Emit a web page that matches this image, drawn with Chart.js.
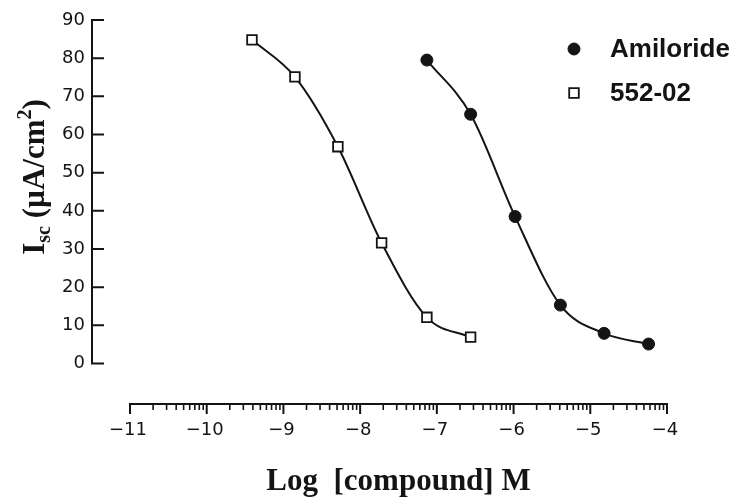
<!DOCTYPE html>
<html>
<head>
<meta charset="utf-8">
<script src="https://cdn.jsdelivr.net/npm/chart.js@4/dist/chart.umd.min.js"></script>
<style>
  html, body { margin: 0; padding: 0; background: #fff; }
  #wrap { width: 736px; height: 501px; }
</style>
</head>
<body>
<div id="wrap"><canvas id="isc" width="736" height="501"></canvas></div>
<script>
// log concentration (M) and short-circuit current readings
const amilorideLogM = [-7.13, -6.56, -5.98, -5.39, -4.82, -4.24];
const amilorideIsc = [79.5, 65.3, 38.5, 15.3, 7.9, 5.1];
const cmpdLogM = [-9.41, -8.85, -8.29, -7.72, -7.13, -6.56];
const cmpdIsc = [84.8, 75.1, 56.8, 31.6, 12.1, 6.9];

const xTicks = [-11, -10, -9, -8, -7, -6, -5, -4];
const yTicks = [0, 10, 20, 30, 40, 50, 60, 70, 80, 90];
const seriesNames = ["Amiloride", "552-02"];

// frame geometry (px)
const yAxisX = 92, xAxisY = 404;
const xAxisStart = 130, xAxisEnd = 667;
const yZeroPx = 363.5, yTopPx = 20;

const pxPerDecade = (xAxisEnd - xAxisStart) / (xTicks[xTicks.length - 1] - xTicks[0]);
const pxPerUnit = (yZeroPx - yTopPx) / yTicks[yTicks.length - 1];

const ink = "#141414";

function pairs(xs, ys) {
  return xs.map((v, i) => ({ x: v, y: ys[i] }));
}

const axesPlugin = {
  id: "plotAxes",
  beforeDatasetsDraw(chart) {
    const { ctx, scales: { x, y } } = chart;
    ctx.save();
    ctx.strokeStyle = ink;
    ctx.fillStyle = ink;
    ctx.lineWidth = 2;
    ctx.lineCap = "square";

    // y axis with inward ticks
    const y0 = y.getPixelForValue(yTicks[0]);
    const y1 = y.getPixelForValue(yTicks[yTicks.length - 1]);
    ctx.beginPath();
    ctx.moveTo(yAxisX, y0);
    ctx.lineTo(yAxisX, y1);
    yTicks.forEach(v => {
      const p = y.getPixelForValue(v);
      ctx.moveTo(yAxisX, p);
      ctx.lineTo(yAxisX + 11, p);
    });
    ctx.stroke();

    ctx.font = '18px "DejaVu Sans"';
    ctx.textAlign = "right";
    ctx.textBaseline = "middle";
    yTicks.forEach(v => ctx.fillText(String(v), yAxisX - 7, y.getPixelForValue(v)));

    // x axis, log minor ticks inside each decade
    const xa = x.getPixelForValue(xTicks[0]);
    const xb = x.getPixelForValue(xTicks[xTicks.length - 1]);
    ctx.beginPath();
    ctx.moveTo(xa, xAxisY);
    ctx.lineTo(xb, xAxisY);
    xTicks.forEach(v => {
      const p = x.getPixelForValue(v);
      ctx.moveTo(p, xAxisY);
      ctx.lineTo(p, xAxisY + 9);
    });
    ctx.stroke();
    ctx.lineWidth = 1.6;
    ctx.lineCap = "butt";
    ctx.beginPath();
    for (let i = 0; i < xTicks.length - 1; i++) {
      for (let k = 2; k <= 9; k++) {
        const p = x.getPixelForValue(xTicks[i] + Math.log10(k));
        ctx.moveTo(p, xAxisY);
        ctx.lineTo(p, xAxisY + 6);
      }
    }
    ctx.stroke();

    ctx.textAlign = "center";
    xTicks.forEach(v => {
      const s = v < 0 ? "\u2212" + Math.abs(v) : String(v);
      ctx.fillText(s, x.getPixelForValue(v) - 2, xAxisY + 26);
    });

    // axis titles
    ctx.font = 'bold 31px "Liberation Serif"';
    ctx.textBaseline = "alphabetic";
    ctx.fillText("Log  [compound] M", (xa + xb) / 2, 490);

    const big = 'bold 31px "Liberation Serif"';
    const small = 'bold 20px "Liberation Serif"';
    const parts = [
      { t: "I", f: big, dy: 0 },
      { t: "sc", f: small, dy: 6 },
      { t: " (\u00b5A/cm", f: big, dy: 0 },
      { t: "2", f: small, dy: -13 },
      { t: ")", f: big, dy: 0 }
    ];
    let total = 0;
    parts.forEach(p => { ctx.font = p.f; p.w = ctx.measureText(p.t).width; total += p.w; });
    ctx.translate(44, 177);
    ctx.rotate(-Math.PI / 2);
    ctx.textAlign = "left";
    let cx = -total / 2;
    parts.forEach(p => {
      ctx.font = p.f;
      ctx.fillText(p.t, cx, p.dy);
      cx += p.w;
    });
    ctx.restore();
  },
  afterDraw(chart) {
    // legend in the upper right of the plot
    const { ctx } = chart;
    ctx.save();
    ctx.font = 'bold 26px "Liberation Sans"';
    ctx.textAlign = "left";
    ctx.textBaseline = "middle";
    chart.data.datasets.forEach((ds, i) => {
      const cy = 49 + i * 44;
      ctx.fillStyle = ds.pointBackgroundColor;
      ctx.strokeStyle = ds.pointBorderColor;
      ctx.lineWidth = ds.pointBorderWidth;
      Chart.helpers.drawPoint(ctx, {
        pointStyle: ds.pointStyle,
        radius: ds.pointRadius,
        borderWidth: ds.pointBorderWidth,
        rotation: 0
      }, 574, cy);
      ctx.fillStyle = ink;
      ctx.fillText(ds.label, 610, cy + 1);
    });
    ctx.restore();
  }
};

new Chart(document.getElementById("isc"), {
  type: "scatter",
  data: {
    datasets: [
      {
        label: seriesNames[0],
        data: pairs(amilorideLogM, amilorideIsc),
        showLine: true,
        cubicInterpolationMode: "monotone",
        borderColor: ink,
        borderWidth: 2,
        pointStyle: "circle",
        pointRadius: 6,
        pointBackgroundColor: ink,
        pointBorderColor: ink,
        pointBorderWidth: 1,
        clip: false
      },
      {
        label: seriesNames[1],
        data: pairs(cmpdLogM, cmpdIsc),
        showLine: true,
        cubicInterpolationMode: "monotone",
        borderColor: ink,
        borderWidth: 2,
        pointStyle: "rect",
        pointRadius: 6.8,
        pointBackgroundColor: "#ffffff",
        pointBorderColor: ink,
        pointBorderWidth: 1.8,
        clip: false
      }
    ]
  },
  options: {
    responsive: false,
    animation: false,
    devicePixelRatio: 1,
    layout: {
      padding: { left: yAxisX, right: 736 - xAxisEnd, top: yTopPx, bottom: 501 - xAxisY }
    },
    scales: {
      x: {
        type: "linear",
        display: false,
        min: xTicks[0] - (xAxisStart - yAxisX) / pxPerDecade,
        max: xTicks[xTicks.length - 1]
      },
      y: {
        type: "linear",
        display: false,
        min: -(xAxisY - yZeroPx) / pxPerUnit,
        max: yTicks[yTicks.length - 1]
      }
    },
    plugins: {
      legend: { display: false },
      tooltip: { enabled: false }
    }
  },
  plugins: [axesPlugin]
});
</script>
</body>
</html>
